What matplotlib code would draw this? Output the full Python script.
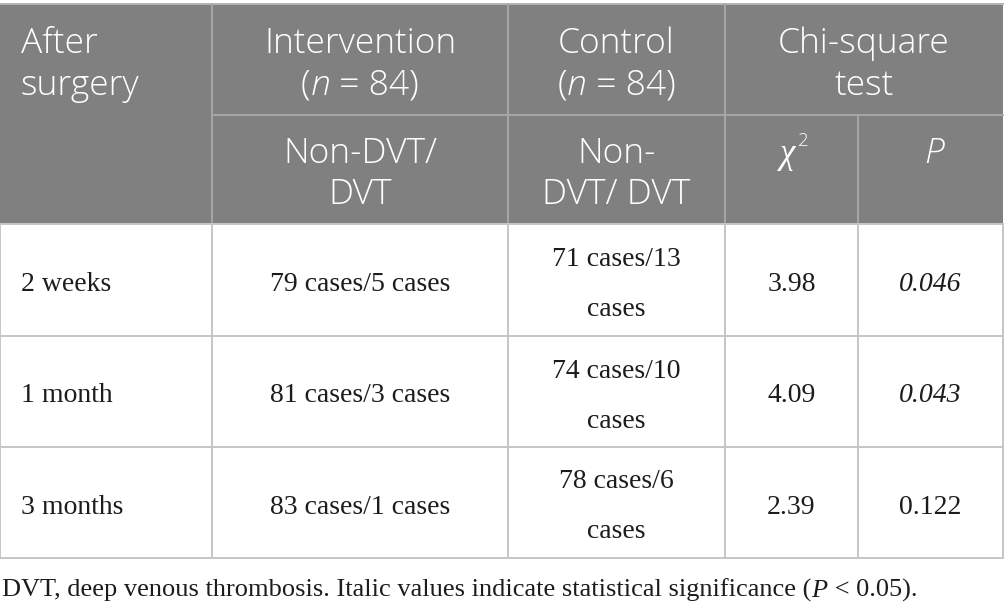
import textwrap

import matplotlib

matplotlib.use("Agg")
import matplotlib.pyplot as plt
from matplotlib.patches import Rectangle

SERIF = "Liberation Serif"
SANS = "Open Sans"

# table content
periods = ["2 weeks", "1 month", "3 months"]
intervention = ["79 cases/5 cases", "81 cases/3 cases", "83 cases/1 cases"]
control = ["71 cases/13 cases", "74 cases/10 cases", "78 cases/6 cases"]
chi2 = ["3.98", "4.09", "2.39"]
p_values = [0.046, 0.043, 0.122]
footnote = "DVT, deep venous thrombosis. Italic values indicate statistical significance ("

# layout in pixels (axes are mapped 1:1 onto the 1005x611 canvas)
W, H = 1005, 611
COL_X = [0, 212, 508, 725, 858, 1003]
TOP, HDR_MID, HDR_BOT = 4, 115, 224
ROW_Y = [224, 336, 447, 558]
HDR_BG = "#808080"
HDR_LINE = "#a9a9a9"
BODY_LINE = "#c6c6c6"
TXT = "#1c1c1c"

fig = plt.figure(figsize=(W / 100, H / 100), dpi=100)
ax = fig.add_axes([0, 0, 1, 1])
ax.set_xlim(0, W)
ax.set_ylim(H, 0)
ax.axis("off")
renderer = fig.canvas.get_renderer()


def advance(s, style, kw):
    """Horizontal advance of s in pixels (padding trick keeps spaces)."""
    a = ax.text(0, 0, "X" + s + "X", style=style, **kw)
    b = ax.text(0, 0, "XX", style=style, **kw)
    w = a.get_window_extent(renderer).width - b.get_window_extent(renderer).width
    a.remove()
    b.remove()
    return w


def draw_runs(x, y, runs, ha="left", **kw):
    widths = [advance(s, st, kw) for s, st in runs]
    cur = x - sum(widths) / 2 if ha == "center" else x
    for (s, st), w in zip(runs, widths):
        ax.text(cur, y, s, style=st, ha="left", va="baseline", **kw)
        cur += w


# ---- header block ------------------------------------------------------
ax.add_patch(Rectangle((0, TOP), COL_X[-1], HDR_BOT - TOP, color=HDR_BG, lw=0))
ax.plot([0, COL_X[-1]], [TOP, TOP], color="#b5b5b5", lw=1.4)
for x in COL_X[1:4]:
    ax.plot([x, x], [TOP, HDR_BOT], color=HDR_LINE, lw=1.3)
ax.plot([COL_X[4], COL_X[4]], [HDR_MID, HDR_BOT], color=HDR_LINE, lw=1.3)
ax.plot([COL_X[1], COL_X[-1]], [HDR_MID, HDR_MID], color=HDR_LINE, lw=1.3)

hk = dict(fontsize=25.5, color="white", family=SANS, weight="light")
cx = [(COL_X[i] + COL_X[i + 1]) / 2 for i in range(5)]
chi_cx = (COL_X[3] + COL_X[5]) / 2

ax.text(21, 53, "After", ha="left", va="baseline", **hk)
ax.text(21, 95, "surgery", ha="left", va="baseline", **hk)
for x, name in [(cx[1], "Intervention"), (cx[2], "Control")]:
    ax.text(x, 53, name, ha="center", va="baseline", **hk)
    draw_runs(x, 95, [("(", "normal"), ("n", "italic"), (" = 84)", "normal")],
              ha="center", **hk)
ax.text(chi_cx, 53, "Chi-square", ha="center", va="baseline", **hk)
ax.text(chi_cx, 95, "test", ha="center", va="baseline", **hk)

ax.text(cx[1], 163, "Non-DVT/", ha="center", va="baseline", **hk)
ax.text(cx[1], 204, "DVT", ha="center", va="baseline", **hk)
ax.text(cx[2], 163, "Non-", ha="center", va="baseline", **hk)
ax.text(cx[2], 204, "DVT/ DVT", ha="center", va="baseline", **hk)
ax.text(cx[3] - 4, 163, "χ", ha="center", va="baseline", fontsize=25,
        color="white", family=SERIF, style="italic")
ax.text(cx[3] + 6, 146, "2", ha="left", va="baseline", fontsize=13.5,
        color="white", family=SANS, weight="light")
ax.text(cx[4] + 4, 163, "P", ha="center", va="baseline", style="italic", **hk)

# ---- body --------------------------------------------------------------
for y in ROW_Y:
    ax.plot([0, COL_X[-1]], [y, y], color=BODY_LINE, lw=1.4)
for x in COL_X:
    ax.plot([x, x], [ROW_Y[0], ROW_Y[-1]], color=BODY_LINE, lw=1.4)

bk = dict(fontsize=20, color=TXT, family=SERIF, va="baseline")
for i in range(len(periods)):
    mid = (ROW_Y[i] + ROW_Y[i + 1]) / 2
    base = mid + 11
    ax.text(21, base, periods[i], ha="left", **bk)
    ax.text(cx[1], base, intervention[i], ha="center", **bk)
    lines = textwrap.wrap(control[i], 11)
    if len(lines) == 1:
        ax.text(cx[2], base, lines[0], ha="center", **bk)
    else:
        ax.text(cx[2], mid - 14, lines[0], ha="center", **bk)
        ax.text(cx[2], mid + 36, lines[1], ha="center", **bk)
    ax.text(cx[3], base, chi2[i], ha="center", **bk)
    ax.text(cx[4], base, f"{p_values[i]:.3f}", ha="center",
            style="italic" if p_values[i] < 0.05 else "normal", **bk)

# ---- footnote ----------------------------------------------------------
draw_runs(2, 597, [(footnote, "normal"), ("P", "italic"), (" < 0.05).", "normal")],
          fontsize=19, color=TXT, family=SERIF)

fig.savefig("out.png", dpi=100)
